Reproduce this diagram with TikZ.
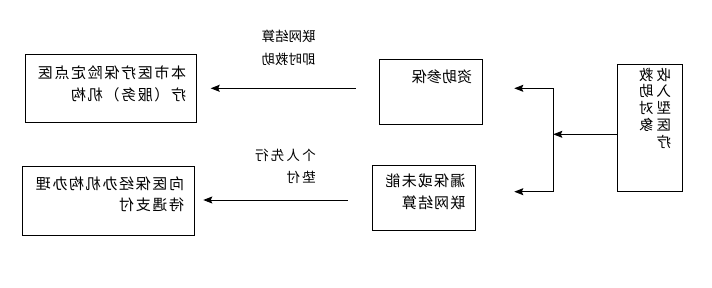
\documentclass[tikz,border=0pt]{standalone}
\usepackage{fontspec}
\usepackage{graphicx}
\usetikzlibrary{arrows.meta}
\newfontfamily\cjk{Noto Sans CJK SC}
\newfontfamily\cjkwide[LetterSpace=11]{Noto Sans CJK SC}
\newfontfamily\cjkmid[LetterSpace=8]{Noto Sans CJK SC}
\newfontfamily\cjknarrow[LetterSpace=1]{Noto Sans CJK SC}
\newfontfamily\cjklabel[LetterSpace=17]{Noto Sans CJK SC}
% mirrored text block (the whole figure reads right to left)
\newcommand{\mirtext}[1]{\reflectbox{\begin{tabular}{@{}l@{}}#1\end{tabular}}}

\begin{document}
\begin{tikzpicture}[x=1pt,y=-1pt]
\tikzset{
  flowbox/.style={draw=black,line width=0.9pt,inner sep=0pt},
  boxtext/.style={inner sep=0pt,font=\cjkwide\fontsize{15}{21.5}\selectfont},
  arrowlabel/.style={inner sep=0pt,font=\cjk\fontsize{13.5}{23}\selectfont},
  flowline/.style={draw=black,line width=0.9pt},
  flowarrow/.style={flowline,-{Stealth[length=9pt,width=7pt,inset=1.5pt]}}
}
\useasboundingbox (0,0) rectangle (712,287);
% boxes
\node[flowbox,minimum width=170.7pt,minimum height=68.4pt] (yljg) at (110.7,88.5) {};
\node[flowbox,minimum width=171.3pt,minimum height=69pt] (jbjg) at (108.4,200.5) {};
\node[flowbox,minimum width=103pt,minimum height=65pt] (zzcb) at (430.8,91.8) {};
\node[flowbox,minimum width=103pt,minimum height=65.4pt] (lbwl) at (423.8,198) {};
\node[flowbox,minimum width=65.4pt,minimum height=127.7pt] (jzdx) at (650,127.85) {};
% texts
\node[boxtext] (yljgtxt) at (112,85) {\mirtext{本市医疗保险定点医\\疗（服务）机构}};
\node[boxtext] (jbjgtxt) at (110,195.5) {\mirtext{向医保经办机构办理\\待遇支付}};
\node[boxtext,font=\cjknarrow\fontsize{15}{21.5}\selectfont] (zzcbtxt) at (442,78) {\mirtext{资助参保}};
\node[boxtext,font=\cjkmid\fontsize{15}{21.5}\selectfont] (lbwltxt) at (425.5,193) {\mirtext{漏保或未能\\联网结算}};
\node[inner sep=0pt,font=\cjk\fontsize{14.5}{15.5}\selectfont] (jzdxtxt) at (655,110)
  {\reflectbox{\begin{tabular}{@{}c@{\hspace{3pt}}c@{}}收&救\\入&助\\型&对\\医&象\\疗&\end{tabular}}};
\node[arrowlabel] (lwjs) at (288.5,48.3) {\mirtext{联网结算\\即时救助}};
\node[arrowlabel,font=\cjklabel\fontsize{13.5}{21.5}\selectfont] (grxx) at (285.5,167.3) {\mirtext{个人先行\\垫付}};
% arrow ends
\coordinate (t1) at (355.7,88.3);
\coordinate (h1) at (210.7,88.3);
\coordinate (t2) at (347.7,200);
\coordinate (h2) at (203.3,200);
\coordinate (fork) at (553.3,134.3);
\coordinate (up) at (553.3,88.3);
\coordinate (down) at (553.3,191.7);
\coordinate (uptip) at (514.3,88.3);
\coordinate (downtip) at (514.3,191.7);
% connectors
\draw[flowarrow] (t1) -- (h1);
\draw[flowarrow] (t2) -- (h2);
\draw[flowarrow] (jzdx.west |- fork) -- (fork);
\draw[flowline] (up) -- (down);
\draw[flowarrow] (up) -- (uptip);
\draw[flowarrow] (down) -- (downtip);
\end{tikzpicture}
\end{document}
